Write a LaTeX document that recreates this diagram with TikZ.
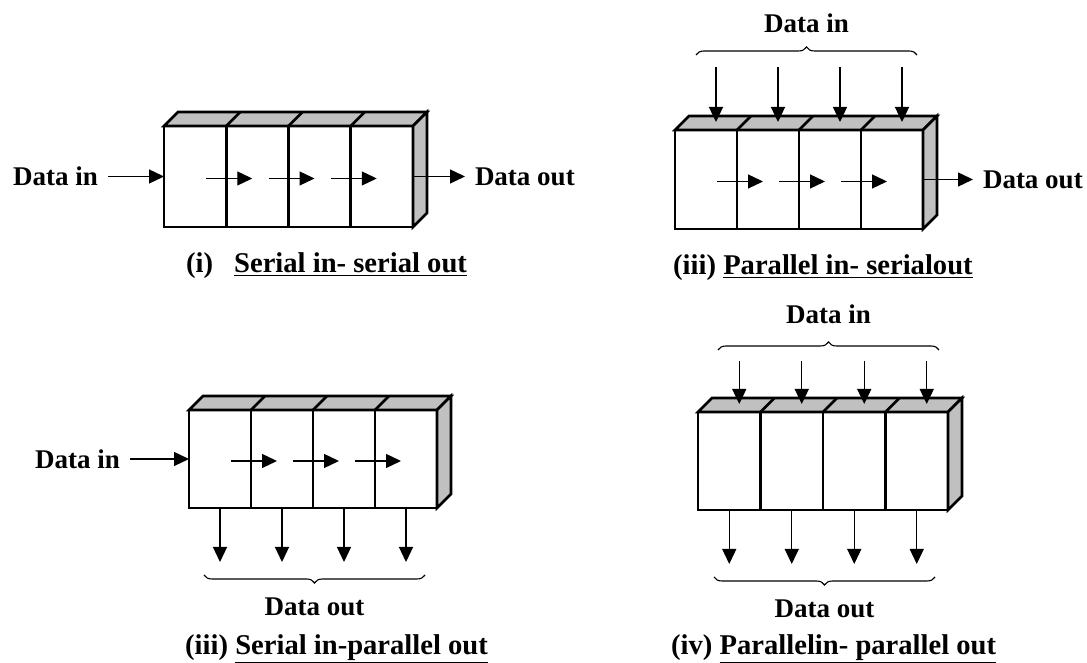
\documentclass[tikz,border=0pt]{standalone}
\usepackage{fontspec}
\setmainfont{Liberation Serif}
\usetikzlibrary{arrows.meta,calc,positioning,decorations.pathreplacing}
\definecolor{RegGray}{RGB}{192,192,192}
\tikzset{
  cell/.style={draw,line width=2.6pt,fill=white,outer sep=0pt,inner sep=0pt,anchor=south west},
  face/.style={draw,line width=2.6pt,fill=RegGray},
  arr/.style={-{Triangle[length=15pt,width=14pt]},line width=1.3pt},
  brc/.style={decorate,decoration={brace,amplitude=8pt},line width=1.1pt},
  lbl/.style={font=\bfseries\fontsize{27}{30}\selectfont,inner sep=2pt,outer xsep=8pt},
  captext/.style={font=\bfseries\fontsize{28.6}{32}\selectfont,inner sep=0pt,anchor=base west}
}
\begin{document}
\begin{tikzpicture}[x=1pt,y=1pt]
\useasboundingbox (0,0) rectangle (1087,663);
% the four registers
\foreach \reg/\x/\y/\w/\h in {A/164/436/62.25/101, B/675/434/62/99, C/189/155/62/98, D/698/153/62.5/98}{
  \node[cell,minimum width=\w pt,minimum height=\h pt] (\reg1) at (\x,\y) {};
  \foreach \i [count=\j from 2] in {1,2,3}
    \node[cell,minimum width=\w pt,minimum height=\h pt,right=0pt of \reg\i] (\reg\j) {};
  \draw[face] (\reg1.north west) -- ++(14,14) -- ($(\reg4.north east)+(14,14)$) -- (\reg4.north east) -- cycle;
  \draw[face] (\reg4.north east) -- ++(14,14) -- ($(\reg4.south east)+(14,14)$) -- (\reg4.south east) -- cycle;
  \foreach \i in {1,2,3}
    \draw[line width=2.6pt] (\reg\i.north east) -- ++(14,14);
}
% shifting from cell to cell
\foreach \reg in {A,B,C}
  \foreach \i in {1,2,3}
    \draw[arr] ($(\reg\i.east)+(-20,-2)$) -- ($(\reg\i.east)+(26,-2)$);
% serial in and out
\node[lbl,left=56pt of A1.west] (inA) {Data in};
\draw[arr] (inA) -- (A1.west);
\node[lbl,right=52pt of A4.east] (outA) {Data out};
\draw[arr] (A4.east) -- (outA);
\node[lbl,right=50pt of B4.east] (outB) {Data out};
\draw[arr] (B4.east) -- (outB);
\node[lbl,left=59pt of C1.west] (inC) {Data in};
\draw[arr] (inC) -- (C1.west);
% parallel in
\foreach \reg/\len in {B/55, D/43}
  \foreach \i in {1,...,4}{
    \coordinate (\reg t\i) at ($(\reg\i.north)+(10,8)$);
    \coordinate (\reg s\i) at ($(\reg t\i)+(0,\len)$);
    \draw[arr] (\reg s\i) -- (\reg t\i);
  }
% parallel out
\foreach \reg in {C,D}
  \foreach \i in {1,...,4}{
    \coordinate (\reg o\i) at ($(\reg\i.south)+(0,-54)$);
    \draw[arr] (\reg\i.south) -- (\reg o\i);
  }
% braces
\draw[brc] (696,608) -- (917,608) node[lbl,midway,above=20pt] (inB) {Data in};
\draw[brc] (718,313) -- (939,313) node[lbl,midway,above=24pt] (inD) {Data in};
\draw[brc] (425,88) -- (204,88) node[lbl,midway,below=20pt] (outC) {Data out};
\draw[brc] (935,86) -- (714,86) node[lbl,midway,below=20pt] (outD) {Data out};
% captions
\node[captext] (capA) at (186,390) {(i)\hspace{21pt}\underline{Serial in- serial out}};
\node[captext] (capB) at (673,388) {(iii) \underline{Parallel in- serialout}};
\node[captext] (capC) at (185,8) {(iii) \underline{Serial in-parallel out}};
\node[captext] (capD) at (671,8) {(iv) \underline{Parallelin- parallel out}};
\end{tikzpicture}
\end{document}
